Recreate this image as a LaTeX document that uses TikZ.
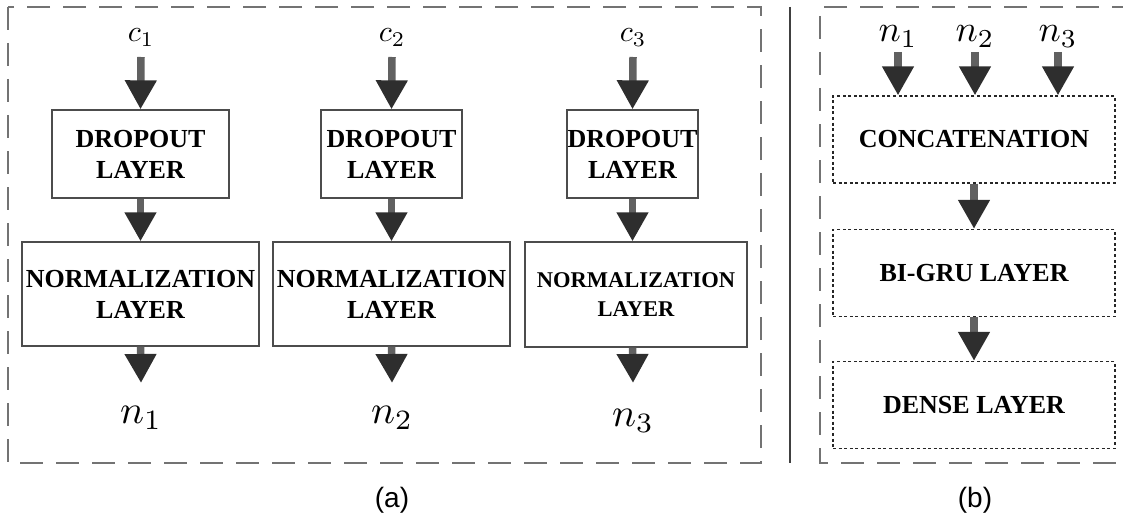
\documentclass[tikz,border=0pt]{standalone}
\usepackage{fontspec}
\setmainfont{Liberation Serif}
\setsansfont{Liberation Sans}
\usetikzlibrary{arrows.meta}
\begin{document}
\begin{tikzpicture}[x=1pt,y=-1pt,
  frame/.style={draw=black!55,line width=1.8pt,dash pattern=on 23pt off 13pt},
  layerbox/.style={draw=black!70,line width=1.3pt,align=center,inner sep=0pt,
    font=\fontsize{26}{31}\selectfont\bfseries},
  dotbox/.style={draw=black!85,line width=1.2pt,dash pattern=on 3pt off 2.6pt,
    align=center,inner sep=0pt,minimum width=282pt,minimum height=87pt,
    font=\fontsize{26}{31}\selectfont\bfseries},
  flow/.style={draw=black!62,line width=7.5pt,
    -{Triangle[width=30pt,length=29pt,color=black!82]}},
  cvar/.style={anchor=base,inner sep=0pt,font=\normalsize,scale=3.0},
  nvar/.style={anchor=base,inner sep=0pt,font=\normalsize,scale=4.0},
  nvarb/.style={anchor=base,inner sep=0pt,font=\normalsize,scale=3.7},
  caption/.style={font=\sffamily\fontsize{28}{32}\selectfont,inner sep=0pt}]
\useasboundingbox (0,0) rectangle (1123,524);

% outer frames and separator
\draw[frame] (8,7) rectangle (761,463);
\draw[frame] (1135,7) -- (820,7) -- (820,463) -- (1135,463);
\draw[black!75,line width=1.5pt] (790,7) -- (790,463);

% (a): three parallel branches
\node[cvar] (c1) at (141,42) {$c_1$};
\node[cvar] (c2) at (392,42) {$c_2$};
\node[cvar] (c3) at (633,42) {$c_3$};

\node[layerbox,minimum width=177pt,minimum height=88pt] (d1) at (140.5,154) {DROPOUT\\LAYER};
\node[layerbox,minimum width=141pt,minimum height=88pt] (d2) at (391.5,154) {DROPOUT\\LAYER};
\node[layerbox,minimum width=131pt,minimum height=88pt] (d3) at (632.5,154) {DROPOUT\\LAYER};

\node[layerbox,minimum width=237pt,minimum height=104pt] (m1) at (140.5,294) {NORMALIZATION\\LAYER};
\node[layerbox,minimum width=237pt,minimum height=104pt] (m2) at (391.5,294) {NORMALIZATION\\LAYER};
\node[layerbox,minimum width=222pt,minimum height=105pt,
  font=\fontsize{22.5}{29}\selectfont\bfseries] (m3) at (636,294.5) {NORMALIZATION\\LAYER};

\node[nvar] (o1) at (141,423) {$n_1$};
\node[nvar] (o2) at (392,423) {$n_2$};
\node[nvar] (o3) at (633,426) {$n_3$};

\foreach \i in {1,2,3}{
  \draw[flow] (c\i.south |- 0,57) -- (d\i.north);
  \draw[flow] (d\i.south) -- (m\i.north -| d\i.south);
  \draw[flow] (m\i.south -| d\i.south) -- (o\i.north |- 0,383);
}

% (b): merging branch
\node[nvarb] (p1) at (898,42) {$n_1$};
\node[nvarb] (p2) at (975,42) {$n_2$};
\node[nvarb] (p3) at (1058,42) {$n_3$};

\node[dotbox] (cat) at (974,139.5) {CONCATENATION};
\node[dotbox] (gru) at (974,273) {BI-GRU LAYER};
\node[dotbox] (dense) at (974,405) {DENSE LAYER};

\draw[flow] (p1.south |- 0,52) -- (p1.south |- cat.north);
\draw[flow] (p2.south |- 0,52) -- (p2.south |- cat.north);
\draw[flow] (p3.south |- 0,52) -- (p3.south |- cat.north);
\draw[flow] (cat.south) -- (gru.north);
\draw[flow] (gru.south) -- (dense.north);

% captions
\node[caption] (capa) at (392,500) {(a)};
\node[caption] (capb) at (975,500) {(b)};
\end{tikzpicture}
\end{document}
